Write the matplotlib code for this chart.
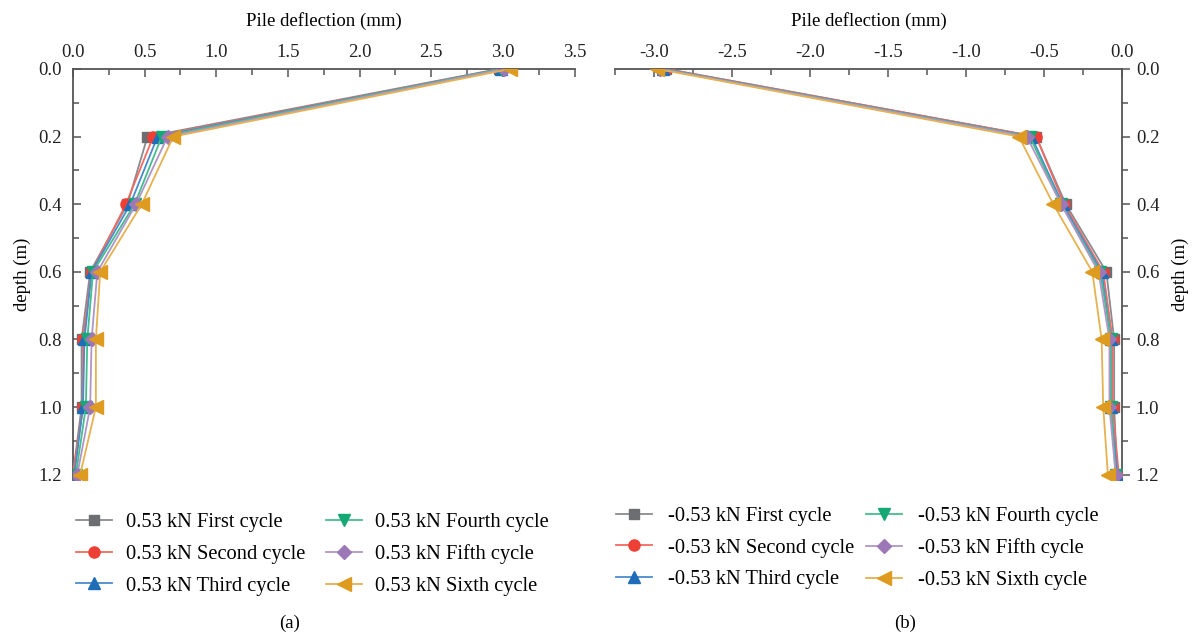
import numpy as np
import matplotlib
matplotlib.use("Agg")
import matplotlib.pyplot as plt
from matplotlib.ticker import MultipleLocator, FormatStrFormatter

plt.rcParams['font.family'] = ['Liberation Serif', 'DejaVu Serif']

depth = [0.0, 0.2, 0.4, 0.6, 0.8, 1.0, 1.2]
cycles = ['First', 'Second', 'Third', 'Fourth', 'Fifth', 'Sixth']

# pile deflection (mm) under +0.53 kN, one list per cycle
pos_first = [2.97, 0.52, 0.38, 0.12, 0.06, 0.06, 0.00]
pos_second = [2.98, 0.56, 0.37, 0.13, 0.07, 0.07, 0.00]
pos_third = [2.99, 0.59, 0.40, 0.13, 0.08, 0.07, 0.01]
pos_fourth = [2.99, 0.62, 0.43, 0.14, 0.10, 0.09, 0.02]
pos_fifth = [3.01, 0.66, 0.44, 0.17, 0.13, 0.12, 0.03]
pos_sixth = [3.05, 0.70, 0.48, 0.19, 0.16, 0.16, 0.05]

# pile deflection (mm) under -0.53 kN
neg_first = [-2.92, -0.55, -0.36, -0.10, -0.05, -0.05, -0.03]
neg_second = [-2.92, -0.55, -0.37, -0.12, -0.06, -0.06, -0.02]
neg_third = [-2.94, -0.58, -0.38, -0.13, -0.07, -0.07, -0.03]
neg_fourth = [-2.95, -0.59, -0.39, -0.14, -0.07, -0.07, -0.04]
neg_fifth = [-2.96, -0.61, -0.39, -0.15, -0.08, -0.08, -0.04]
neg_sixth = [-2.98, -0.66, -0.44, -0.19, -0.13, -0.12, -0.09]

pos_series = [pos_first, pos_second, pos_third, pos_fourth, pos_fifth, pos_sixth]
neg_series = [neg_first, neg_second, neg_third, neg_fourth, neg_fifth, neg_sixth]

colors = ['#6d6e71', '#ee3f35', '#1f6db8', '#14a874', '#9c78b6', '#de9b1f']
line_colors = ['#8a8b8e', '#f26a61', '#4a8bcb', '#44bd8e', '#b096c6', '#e6b14f']
markers = ['s', 'o', '^', 'v', 'D', '<']
msizes = [7.5, 8, 8.5, 8.5, 7, 9.5]

fig = plt.figure(figsize=(12.02, 6.33), dpi=100)
ax1 = fig.add_axes([0.0607, 0.242, 0.4173, 0.649])
ax2 = fig.add_axes([0.5116, 0.242, 0.4218, 0.649])

spine_col = '#555555'

def draw(ax, series, prefix):
    for i, vals in enumerate(series):
        ax.plot(vals, depth, color=line_colors[i], lw=1.3, marker=markers[i],
                ms=msizes[i], mfc=colors[i], mec=colors[i],
                label=f'{prefix} kN {cycles[i]} cycle', zorder=3 + i)
    ax.set_ylim(1.215, 0)
    ax.yaxis.set_major_locator(MultipleLocator(0.2))
    ax.yaxis.set_minor_locator(MultipleLocator(0.1))
    ax.xaxis.set_major_locator(MultipleLocator(0.5))
    ax.xaxis.set_minor_locator(MultipleLocator(0.25))
    ax.xaxis.tick_top()
    ax.xaxis.set_label_position('top')
    ax.set_xlabel('Pile deflection (mm)', fontsize=13.5, labelpad=13)
    ax.yaxis.set_major_formatter(FormatStrFormatter('%.1f'))
    ax.xaxis.set_major_formatter(FormatStrFormatter('%.1f'))
    ax.tick_params(labelsize=13.5, colors='#222222')
    ax.tick_params(axis='x', pad=6)
    for s in ax.spines.values():
        s.set_color(spine_col)
        s.set_linewidth(1.3)
    ax.spines['bottom'].set_visible(False)

draw(ax1, pos_series, '0.53')
ax1.set_xlim(0, 3.5)
ax1.spines['right'].set_visible(False)
ax1.tick_params(which='both', direction='in', color=spine_col, width=1.1)
ax1.tick_params(which='major', length=6)
ax1.tick_params(which='minor', length=4)
ax1.tick_params(axis='y', pad=8)
ax1.set_ylabel('depth (m)', fontsize=13.5, labelpad=5)
ax1.legend(loc='upper left', bbox_to_anchor=(-0.03, -0.035), ncol=2, frameon=False,
           fontsize=14.8, handlelength=1.75, handletextpad=0.65, columnspacing=1.0,
           labelspacing=0.6)

draw(ax2, neg_series, '-0.53')
ax2.set_xlim(-3.25, 0)
ax2.spines['left'].set_visible(False)
ax2.yaxis.tick_right()
ax2.yaxis.set_label_position('right')
ax2.set_ylabel('depth (m)', fontsize=13.5, labelpad=9)
ax2.tick_params(axis='x', which='both', direction='in', color=spine_col, width=1.1)
ax2.tick_params(axis='y', which='both', direction='out', color=spine_col, width=1.1)
ax2.tick_params(which='major', length=6)
ax2.tick_params(which='minor', length=4)
ax2.tick_params(axis='y', pad=4)
ax2.legend(loc='upper left', bbox_to_anchor=(-0.034, -0.02), ncol=2, frameon=False,
           fontsize=14.8, handlelength=1.75, handletextpad=0.75, columnspacing=0.6,
           labelspacing=0.6)

fig.text(0.241, 0.008, '(a)', ha='center', fontsize=13.5)
fig.text(0.753, 0.008, '(b)', ha='center', fontsize=13.5)

fig.savefig('out.png', dpi=100)
